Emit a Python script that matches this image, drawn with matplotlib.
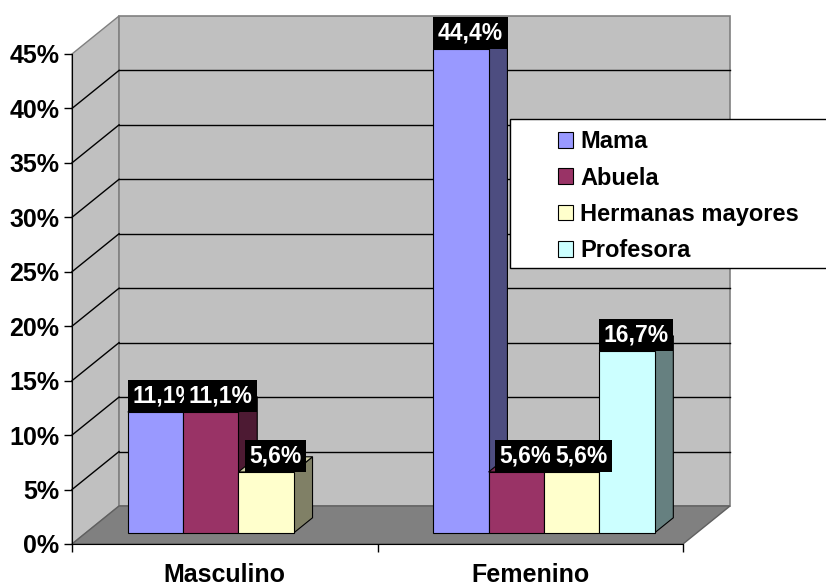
import numpy as np
import matplotlib
matplotlib.use("Agg")
import matplotlib.pyplot as plt
from matplotlib.patches import Polygon, Rectangle, Patch

plt.rcParams["font.family"] = ["Liberation Sans", "DejaVu Sans"]
plt.rcParams["font.weight"] = "bold"

categories = ["Masculino", "Femenino"]
series = ["Mama", "Abuela", "Hermanas mayores", "Profesora"]
values = {
    "Mama": [11.1, 44.4],
    "Abuela": [11.1, 5.6],
    "Hermanas mayores": [5.6, 5.6],
    "Profesora": [0.0, 16.7],
}
colors = ["#9999FF", "#993366", "#FFFFCC", "#CCFFFF"]
yticks = [0, 5, 10, 15, 20, 25, 30, 35, 40, 45]


def shade(hex_color, f):
    c = np.array(matplotlib.colors.to_rgb(hex_color))
    return tuple(c * f)


fig = plt.figure(figsize=(8.26, 5.87), dpi=100)
ax = fig.add_axes([0.0872, 0.0733, 0.7397, 0.8348])
ax.set_xlim(0, len(categories))
ax.set_ylim(0, 45)

# depth of the 3d box in data units
dx, dy = 0.154, 3.49
bar_w = 0.181
bfx, bfy = 0.29 * dx, 0.29 * dy      # bar front offset
bdx, bdy = 0.40 * dx, 0.40 * dy      # bar depth

ymax = yticks[-1]
nx = len(categories)

# walls and floor
floor = Polygon([(0, 0), (nx, 0), (nx + dx, dy), (dx, dy)], closed=True,
                fc="#808080", ec="#606060", lw=1, clip_on=False, zorder=0)
left_wall = Polygon([(0, 0), (0, ymax), (dx, ymax + dy), (dx, dy)], closed=True,
                    fc="#C0C0C0", ec="#808080", lw=1, clip_on=False, zorder=0)
back_wall = Polygon([(dx, dy), (dx, ymax + dy), (nx + dx, ymax + dy), (nx + dx, dy)],
                    closed=True, fc="#C0C0C0", ec="#808080", lw=1.2, clip_on=False, zorder=0)
for p in (left_wall, back_wall, floor):
    ax.add_patch(p)

for v in yticks[1:-1]:
    ax.plot([0, dx], [v, v + dy], color="black", lw=1, clip_on=False, zorder=1)
    ax.plot([dx, nx + dx], [v + dy, v + dy], color="black", lw=1, clip_on=False, zorder=1)

# bars
z = 2
for i, cat in enumerate(categories):
    for j, name in enumerate(series):
        v = values[name][i]
        if v <= 0:
            continue
        x0 = i + 0.5 - 2 * bar_w + j * bar_w + bfx
        y0 = bfy
        col = colors[j]
        side = Polygon([(x0 + bar_w, y0), (x0 + bar_w + bdx, y0 + bdy),
                        (x0 + bar_w + bdx, y0 + v + bdy), (x0 + bar_w, y0 + v)],
                       closed=True, fc=shade(col, 0.5), ec="black", lw=0.8,
                       clip_on=False, zorder=z)
        top = Polygon([(x0, y0 + v), (x0 + bar_w, y0 + v),
                       (x0 + bar_w + bdx, y0 + v + bdy), (x0 + bdx, y0 + v + bdy)],
                      closed=True, fc=shade(col, 0.8), ec="black", lw=0.8,
                      clip_on=False, zorder=z)
        front = Rectangle((x0, y0), bar_w, v, fc=col, ec="black", lw=0.8,
                          clip_on=False, zorder=z + 0.5)
        ax.add_patch(side)
        ax.add_patch(top)
        ax.add_patch(front)
        z += 1

# value labels
for i, cat in enumerate(categories):
    for j, name in enumerate(series):
        v = values[name][i]
        if v <= 0:
            continue
        x0 = i + 0.5 - 2 * bar_w + j * bar_w + bfx
        txt = f"{v:.1f}".replace(".", ",") + "%"
        ax.annotate(txt, (x0 + bar_w / 2 + bdx / 2, bfy + v), xytext=(0, 3.5),
                    textcoords="offset points", ha="center", va="bottom",
                    color="white", fontsize=16.5, fontweight="bold",
                    bbox=dict(boxstyle="square,pad=0.2", fc="black", ec="none"),
                    zorder=20 + j, annotation_clip=False)

# axes
for s in ("top", "right"):
    ax.spines[s].set_visible(False)
ax.spines["left"].set_color("black")
ax.spines["bottom"].set_color("black")
ax.spines["left"].set_zorder(10)
ax.spines["bottom"].set_zorder(10)
ax.set_yticks(yticks)
ax.set_yticklabels([f"{t}%" for t in yticks], fontsize=18, fontweight="bold")
ax.tick_params(axis="y", length=6, width=1, pad=3, direction="out")
ax.set_xticks(range(nx + 1))
ax.set_xticklabels([])
ax.tick_params(axis="x", which="major", length=6, width=1, direction="out")
ax.set_xticks([i + 0.5 for i in range(nx)], minor=True)
ax.set_xticklabels(categories, minor=True, fontsize=18, fontweight="bold")
ax.tick_params(axis="x", which="minor", length=0, pad=14)
ax.patch.set_visible(False)

# legend
fig.patches.append(Rectangle((0.617, 0.543), 0.45, 0.254, transform=fig.transFigure,
                             fc="white", ec="black", lw=1, zorder=30))
handles = [Patch(fc=c, ec="black", lw=0.8) for c in colors]
leg = fig.legend(handles, series, loc="upper left", bbox_to_anchor=(0.655, 0.806),
                 frameon=False, prop={"weight": "bold", "size": 17},
                 handlelength=0.65, handleheight=0.65, handletextpad=0.3,
                 labelspacing=0.56, borderpad=0.2)
leg.set_zorder(31)

fig.savefig("out.png", dpi=100)
